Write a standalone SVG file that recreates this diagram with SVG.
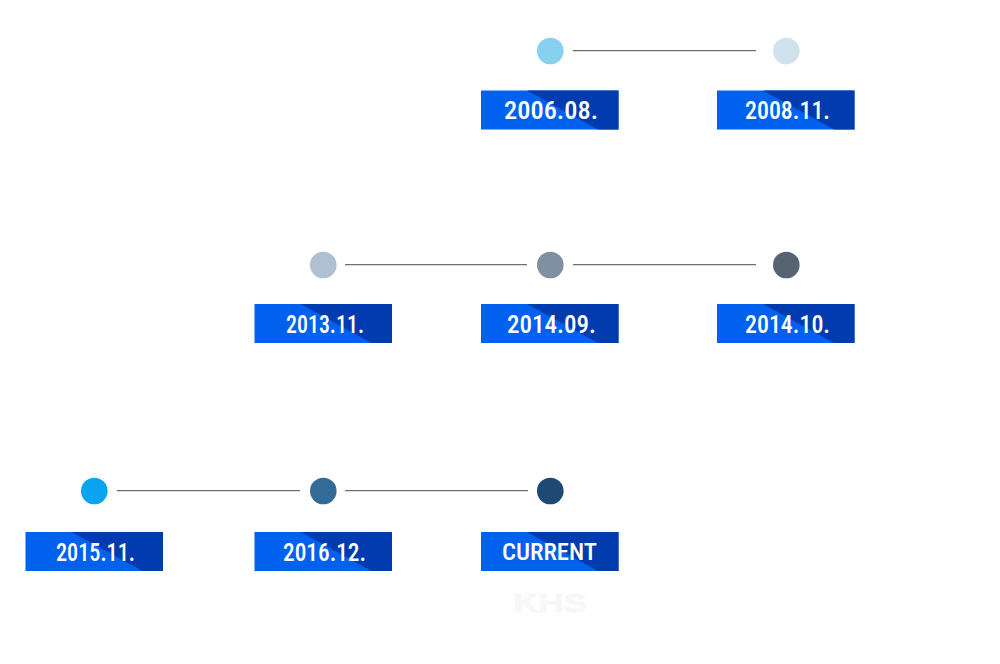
<svg xmlns="http://www.w3.org/2000/svg" width="1000" height="664" viewBox="0 0 1000 664">
<defs>
<symbol id="tag" overflow="visible">
<rect width="137.5" height="39" fill="#0061ee"/>
<path d="M46 0H137.5V39H117Z" fill="#003bb0"/>
</symbol>
</defs>
<style>
text{font-family:"Roboto Condensed","Roboto","Liberation Sans",sans-serif;font-weight:500;fill:#fff;text-anchor:middle}
.d{font-size:26.5px}
.c{font-size:24.500px}
line{stroke:#6f6f6f;stroke-width:1.2}
</style>
<rect width="1000" height="664" fill="#fff"/>
<g id="connectors">
<line x1="573" y1="50.700" x2="756" y2="50.700"/>
<line x1="345" y1="264.700" x2="527" y2="264.700"/>
<line x1="573" y1="264.700" x2="756" y2="264.700"/>
<line x1="117" y1="490.700" x2="300" y2="490.700"/>
<line x1="345" y1="490.700" x2="528" y2="490.700"/>
</g>
<g id="n1"><circle cx="550.300" cy="51" r="13.300" fill="#87d0f0"/><use href="#tag" x="481" y="90.500"/><text class="d" x="551" y="119" textLength="94" lengthAdjust="spacingAndGlyphs">2006.08.</text></g>
<g id="n2"><circle cx="786.300" cy="51" r="13.300" fill="#d0e2ee"/><use href="#tag" x="717" y="90.500"/><text class="d" x="787.500" y="119" textLength="85" lengthAdjust="spacingAndGlyphs">2008.11.</text></g>
<g id="n3"><circle cx="323.300" cy="265" r="13.300" fill="#aec1d2"/><use href="#tag" x="254.500" y="304"/><text class="d" x="325" y="333" textLength="78" lengthAdjust="spacingAndGlyphs">2013.11.</text></g>
<g id="n4"><circle cx="550.300" cy="265" r="13.300" fill="#7f90a2"/><use href="#tag" x="481" y="304"/><text class="d" x="551.500" y="333" textLength="89" lengthAdjust="spacingAndGlyphs">2014.09.</text></g>
<g id="n5"><circle cx="786.300" cy="265" r="13.300" fill="#566373"/><use href="#tag" x="717" y="304"/><text class="d" x="787.500" y="333" textLength="85" lengthAdjust="spacingAndGlyphs">2014.10.</text></g>
<g id="n6"><circle cx="94.300" cy="491" r="13.300" fill="#09a4ef"/><use href="#tag" x="25.500" y="532"/><text class="d" x="95.500" y="561" textLength="79" lengthAdjust="spacingAndGlyphs">2015.11.</text></g>
<g id="n7"><circle cx="323.300" cy="491" r="13.300" fill="#336b97"/><use href="#tag" x="254.500" y="532"/><text class="d" x="324.500" y="561" textLength="83" lengthAdjust="spacingAndGlyphs">2016.12.</text></g>
<g id="n8"><circle cx="550.300" cy="491" r="13.300" fill="#1d4974"/><use href="#tag" x="481" y="532"/><text class="c" x="549.500" y="560" textLength="95" lengthAdjust="spacingAndGlyphs">CURRENT</text></g>
<text x="550" y="612" textLength="73" lengthAdjust="spacingAndGlyphs" style="font-family:'Liberation Sans',sans-serif;font-weight:700;font-size:26.5px;fill:#f7f7f7;stroke:#f7f7f7;stroke-width:1">KHS</text>
</svg>
